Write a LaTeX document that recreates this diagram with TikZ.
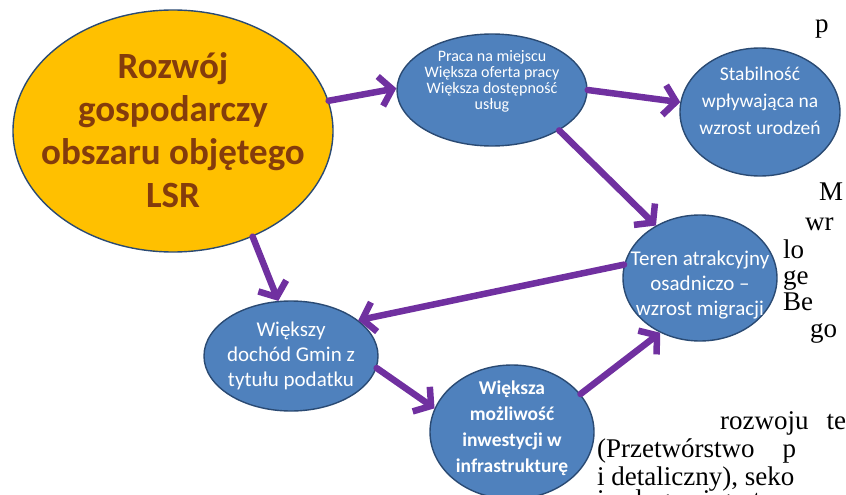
\documentclass[tikz,border=0pt]{standalone}
\usepackage{fontspec}
\setmainfont{Liberation Serif}
\newfontfamily\calibri{Carlito}
\usetikzlibrary{arrows.meta, shapes.geometric}

\definecolor{lsrgold}{HTML}{FFC000}
\definecolor{lsrbrown}{HTML}{843C0C}
\definecolor{bubbleblue}{HTML}{4F81BD}
\definecolor{bubbleedge}{HTML}{2A4A73}
\definecolor{flowpurple}{HTML}{7030A0}

\begin{document}
\begin{tikzpicture}[
  x=1pt, y=-1pt,
  bubble/.style={ellipse, draw=bubbleedge, line width=1.4pt, fill=bubbleblue, inner sep=0pt},
  bubbletext/.style={align=center, text=white, inner sep=0pt},
  flow/.style={-{Straight Barb[length=12pt, width=30pt]}, line width=6.5pt, flowpurple, line cap=round},
  pagetext/.style={anchor=base west, inner sep=0pt, font=\fontsize{27}{29}\selectfont}
]
  \clip (0,0) rectangle (846,495);

  % text of the page around the picture
  \node[pagetext] (pg1) at (815,33) {p};
  \node[pagetext] (pg2) at (819,200) {M};
  \node[pagetext] (pg3) at (805,230) {wr};
  \node[pagetext] (pg4) at (783,258) {lo};
  \node[pagetext] (pg5) at (783,284) {ge};
  \node[pagetext] (pg6) at (783,310) {Be};
  \node[pagetext] (pg7) at (810,337) {go};
  \node[pagetext] (pg8) at (720,429) {rozwoju\hspace{18pt}te};
  \node[pagetext] (pg9) at (597,457) {(Przetwórstwo\hspace{28pt}p};
  \node[pagetext] (pg10) at (597,485) {i detaliczny), seko};
  \node[pagetext] (pg11) at (597,508) {i usługami gastron};

  % bubbles
  \node[bubble, fill=lsrgold, minimum width=320pt, minimum height=242pt] (rozwoj) at (173,131) {};
  \node[bubble, minimum width=190pt, minimum height=112pt] (praca) at (492,90) {};
  \node[bubble, minimum width=160pt, minimum height=128pt] (stabil) at (760,112) {};
  \node[bubble, minimum width=154pt, minimum height=126pt] (teren) at (700,278) {};
  \node[bubble, minimum width=174pt, minimum height=110pt] (dochod) at (291,356) {};
  \node[bubble, minimum width=164pt, minimum height=134pt] (inwest) at (512,432) {};

  \node[align=center, inner sep=0pt, text=lsrbrown, font=\calibri\bfseries\fontsize{37}{43}\selectfont] (rozwojtxt) at (173,130)
    {Rozwój\\gospodarczy\\obszaru objętego\\LSR};
  \node[bubbletext, font=\calibri\fontsize{16}{16}\selectfont] (pracatxt) at (492,81)
    {Praca na miejscu\\Większa oferta pracy\\Większa dostępność\\usług};
  \node[bubbletext, font=\calibri\fontsize{19.5}{27}\selectfont] (stabiltxt) at (760,101)
    {Stabilność\\wpływająca na\\wzrost urodzeń};
  \node[bubbletext, font=\calibri\fontsize{21}{25}\selectfont] (terentxt) at (700,285)
    {Teren atrakcyjny\\osadniczo –\\wzrost migracji};
  \node[bubbletext, font=\calibri\fontsize{21}{25}\selectfont] (dochodtxt) at (291,356)
    {Większy\\dochód Gmin z\\tytułu podatku};
  \node[bubbletext, font=\calibri\bfseries\fontsize{19.5}{26}\selectfont] (inwesttxt) at (512,428)
    {Większa\\możliwość\\inwestycji w\\infrastrukturę};

  % arrows
  \draw[flow] (rozwoj.11) -- (praca.179);
  \draw[flow] (praca.0) -- (stabil.173);
  \draw[flow] (praca.-31) -- (teren.130);
  \draw[flow] (rozwoj.-53) -- (dochod.103);
  \draw[flow] (teren.170) -- (dochod.28);
  \draw[flow] (dochod.-8) -- (inwest.163);
  \draw[flow] (inwest.29) -- (teren.234);
\end{tikzpicture}
\end{document}
